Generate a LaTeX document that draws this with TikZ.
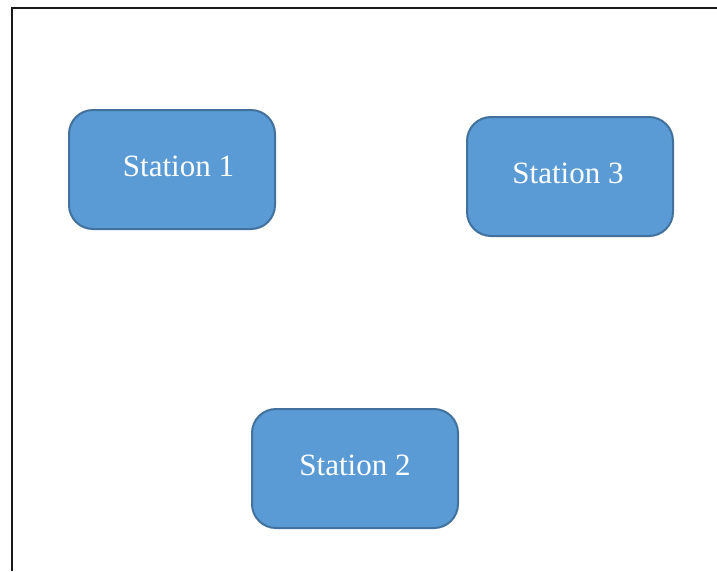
\documentclass[tikz,border=0pt]{standalone}
\usepackage{fontspec}
\setmainfont{Liberation Serif}
\definecolor{boxfill}{HTML}{5B9BD5}
\definecolor{boxline}{HTML}{41719C}
\begin{document}
\begin{tikzpicture}[x=1pt,y=-1pt,
  station/.style={draw=boxline, fill=boxfill, line width=2pt, rounded corners=24pt,
    minimum width=206pt, minimum height=119pt, inner sep=0pt},
  label/.style={text=white, inner sep=0pt, font=\fontsize{31}{36}\selectfont}]
\useasboundingbox (0,0) rectangle (717,571);
\draw[line width=2.6pt, black!90] (12,571) -- (12,8) -- (717,8);
\node[station] (s1) at (172,169.5) {};
\node[label] (t1) at (178.5,166) {Station 1};
\node[station] (s3) at (570,176.5) {};
\node[label] (t3) at (568,173) {Station 3};
\node[station] (s2) at (355,468.5) {};
\node[label] (t2) at (355,465) {Station 2};
\end{tikzpicture}
\end{document}
